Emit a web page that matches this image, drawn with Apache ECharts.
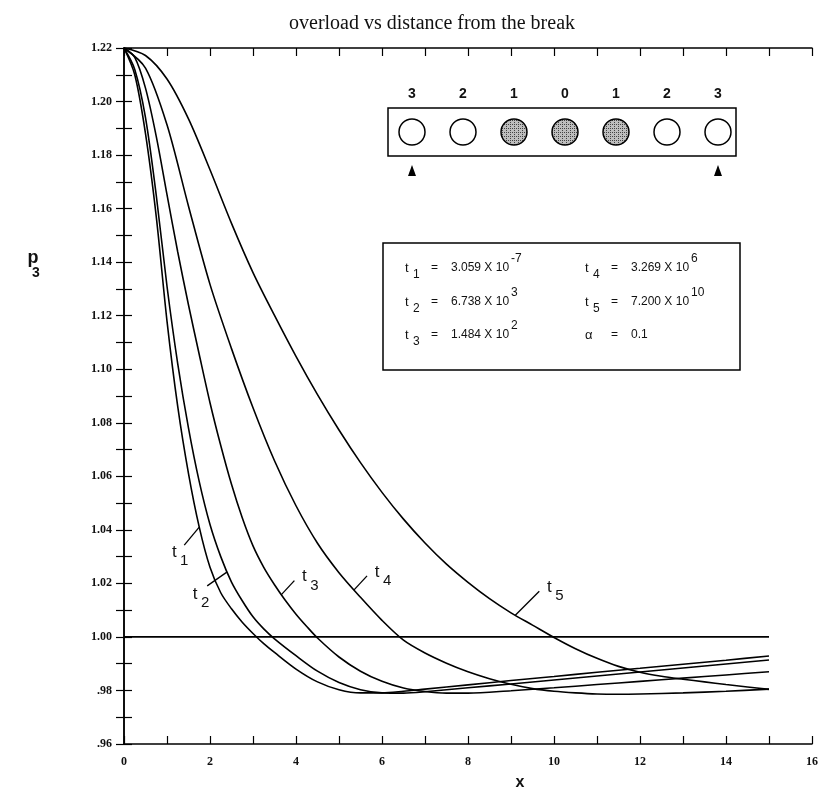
<!DOCTYPE html>
<html><head><meta charset="utf-8">
<script src="https://cdn.jsdelivr.net/npm/echarts@6/dist/echarts.min.js"></script>
<style>html,body{margin:0;padding:0;background:#fff}#c{width:823px;height:800px}</style>
</head><body><div id="c"></div>
<script>
// ---------------- data ----------------
const titleText = 'overload vs distance from the break';
const xAxisName = 'x';
const yAxisName = 'p';
const yAxisSub = '3';

const t1X = [0,0.25,0.5,0.75,1,1.25,1.5,1.75,2,2.25,2.5,2.75,3,3.25,3.5,4,4.5,5,5.5,6,6.5,7,8,9,10,11,12,13,14,15];
const t1Y = [1.220,1.210,1.188,1.157,1.118,1.086,1.061,1.041,1.026,1.0165,1.0105,1.0055,1.0013,0.9975,0.9942,0.9880,0.9832,0.9803,0.9791,0.9791,0.9797,0.9805,0.9821,0.9837,0.9852,0.9868,0.9883,0.9898,0.9913,0.9929];

const t2X = [0,0.25,0.5,0.75,1,1.25,1.5,1.75,2,2.25,2.5,2.75,3,3.25,3.5,4,4.5,5,5.5,6,6.5,7,8,9,10,11,12,13,14,15];
const t2Y = [1.220,1.212,1.194,1.165,1.131,1.102,1.078,1.058,1.042,1.030,1.0205,1.0135,1.0075,1.0030,0.9993,0.9930,0.9872,0.9830,0.9803,0.9791,0.9790,0.9795,0.9810,0.9824,0.9839,0.9854,0.9869,0.9884,0.9899,0.9914];

const t3X = [0,0.25,0.5,0.75,1,1.25,1.5,1.75,2,2.25,2.5,2.75,3,3.25,3.5,3.75,4,4.25,4.5,5,5.5,6,6.5,7,7.5,8,9,10,11,12,13,14,15];
const t3Y = [1.220,1.2165,1.205,1.187,1.1652,1.1438,1.124,1.1055,1.0875,1.0715,1.0570,1.0445,1.0340,1.0260,1.0195,1.0137,1.0085,1.0039,0.9996,0.9925,0.9872,0.9834,0.9809,0.9796,0.9790,0.9790,0.9799,0.9810,0.9822,0.9834,0.9846,0.9858,0.9870];

const t4X = [0,0.5,1,1.5,2,2.5,3,3.5,4,4.5,5,5.5,6,6.5,7,7.5,8,8.5,9,9.5,10,10.5,11,11.5,12,13,14,15];
const t4Y = [1.220,1.2125,1.1913,1.1609,1.1317,1.1077,1.0856,1.0658,1.0490,1.0350,1.0240,1.0148,1.0062,0.9988,0.9940,0.9902,0.9870,0.9844,0.9823,0.9807,0.9797,0.9791,0.9787,0.9786,0.9787,0.9791,0.9797,0.9805];

const t5X = [0,0.5,1,1.5,2,2.5,3,3.5,4,4.5,5,5.5,6,6.5,7,7.5,8,8.5,9,9.5,10,10.5,11,11.5,12,12.5,13,13.5,14,14.5,15];
const t5Y = [1.2200,1.2172,1.2084,1.1935,1.1745,1.1545,1.1361,1.1201,1.1048,1.0905,1.0773,1.0651,1.0540,1.0440,1.0351,1.0272,1.0204,1.0143,1.0090,1.0044,0.9998,0.9956,0.9920,0.9890,0.9868,0.9853,0.9842,0.9832,0.9822,0.9813,0.9804];

const refX = [0, 15];
const refY = [1.00, 1.00];

const curveXs = [t1X, t2X, t3X, t4X, t5X];
const curveYs = [t1Y, t2Y, t3Y, t4Y, t5Y];
const curveSubs = ['1','2','3','4','5'];
// x position on each curve where its label leader touches
const labelAtX = [1.75, 2.4, 3.66, 5.35, 9.1];

// inset diagram
const insetNumbers = ['3','2','1','0','1','2','3'];
const insetFilled = [false,false,true,true,true,false,false];
const insetArrows = [true,false,false,false,false,false,true];

// parameter box
const paramSubs = ['1','4','2','5','3'];
const paramMantissa = ['3.059','3.269','6.738','7.200','1.484'];
const paramExp = ['-7','6','3','10','2'];
const alphaLabel = 'α';
const alphaValue = '0.1';

// ---------------- chart ----------------
const chart = echarts.init(document.getElementById('c'), null, {renderer:'canvas'});
const serif = 'Liberation Serif';
const sans = 'Liberation Sans';

function makeSeries(xs, ys){ return xs.map((x,i)=>[x, ys[i]]); }

const axisLineStyle = {color:'#000', width:1.5};
const tickStyle = {inside:true, length:8, lineStyle:{color:'#000', width:1.2}};

const series = curveXs.map((xs,i)=>({
  type:'line', data: makeSeries(xs, curveYs[i]), showSymbol:false, smooth:0.3,
  lineStyle:{color:'#000', width:1.6}, silent:true, z:3
}));
series.push({type:'line', data: makeSeries(refX, refY), showSymbol:false, lineStyle:{color:'#000', width:1.6}, silent:true});

chart.setOption({
  animation:false,
  backgroundColor:'#fff',
  title:{text:titleText, left:284, top:9, textStyle:{fontFamily:serif, fontSize:20, fontWeight:'normal', color:'#111'}},
  grid:{left:124, right:11, top:48, bottom:56},
  xAxis:[
    {type:'value', min:0, max:16, interval:1, position:'bottom',
     axisLine:{lineStyle:axisLineStyle}, axisTick:tickStyle, splitLine:{show:false},
     axisLabel:{formatter:v=>(Math.round(v)%2===0?String(Math.round(v)):''), margin:12, fontFamily:serif, fontSize:12, fontWeight:'bold', color:'#111'}},
    {type:'value', min:0, max:16, interval:1, position:'top',
     axisLine:{lineStyle:axisLineStyle}, axisTick:tickStyle, splitLine:{show:false}, axisLabel:{show:false}}
  ],
  yAxis:[
    {type:'value', min:0.96, max:1.22, interval:0.01, position:'left',
     axisLine:{lineStyle:axisLineStyle}, axisTick:tickStyle, splitLine:{show:false},
     axisLabel:{formatter:v=>{const k=Math.round(v*100); if(k%2) return ''; const s=(k/100).toFixed(2); return k<100?s.slice(1):s;}, margin:12, fontFamily:serif, fontSize:12, fontWeight:'bold', color:'#111'}},
    {type:'value', min:0.96, max:1.22, interval:0.01, position:'right',
     axisLine:{lineStyle:axisLineStyle}, axisTick:tickStyle, splitLine:{show:false}, axisLabel:{show:false}}
  ],
  series: series
});

// ---------------- annotations ----------------
function interp(xs, ys, x){
  for(let i=0;i<xs.length-1;i++){
    if(x>=xs[i] && x<=xs[i+1]){ const f=(x-xs[i])/(xs[i+1]-xs[i]); return ys[i]+f*(ys[i+1]-ys[i]); }
  }
  return ys[ys.length-1];
}
const measureCtx = document.createElement('canvas').getContext('2d');
function textW(str, font){ measureCtx.font = font; return measureCtx.measureText(str).width; }

const g = [];
function txt(x, y, s, size, opts){
  opts = opts || {};
  g.push({type:'text', x:x, y:y, silent:true, z:10, style:{text:s, font:(opts.weight||'normal')+' '+size+'px "'+(opts.family||sans)+'"', fill:opts.color||'#111', textAlign:opts.align||'left', textVerticalAlign:opts.valign||'middle'}});
}
function line(x1,y1,x2,y2,w){ g.push({type:'line', silent:true, z:10, shape:{x1,y1,x2,y2}, style:{stroke:'#000', lineWidth:w||1.3}}); }

// stipple pattern for filled circles
const pc = document.createElement('canvas'); pc.width=4; pc.height=4;
const pctx = pc.getContext('2d'); pctx.fillStyle='#bdbdbd'; pctx.fillRect(0,0,4,4);
pctx.fillStyle='#444'; pctx.fillRect(0,0,1,1); pctx.fillRect(2,2,1,1); pctx.fillRect(2,0,1,1);
const pattern = {image: pc, repeat:'repeat'};

// inset rectangle
const insL=388, insT=108, insR=736, insB=156;
g.push({type:'rect', silent:true, z:9, shape:{x:insL, y:insT, width:insR-insL, height:insB-insT}, style:{fill:'#fff', stroke:'#000', lineWidth:1.5}});
const circX0 = 412, circStep = 51, circY = 132, circR = 13;
insetNumbers.forEach((n,i)=>{
  const cx = circX0 + i*circStep;
  txt(cx, 94, n, 14, {align:'center', weight:'bold'});
  g.push({type:'circle', silent:true, z:10, shape:{cx:cx, cy:circY, r:circR}, style:{fill: insetFilled[i]?pattern:'#fff', stroke:'#000', lineWidth:1.5}});
  if(insetArrows[i]) g.push({type:'polygon', silent:true, z:10, shape:{points:[[cx-4,176],[cx+4,176],[cx,165]]}, style:{fill:'#000'}});
});

// parameter box
const boxL=383, boxT=243, boxR=740, boxB=370;
g.push({type:'rect', silent:true, z:9, shape:{x:boxL, y:boxT, width:boxR-boxL, height:boxB-boxT}, style:{fill:'#fff', stroke:'#000', lineWidth:1.5}});
const rowY = [268, 268, 302, 302, 335];
const colX = [405, 585, 405, 585, 405];
const fs = 12;
const fnt = 'normal '+fs+'px "'+sans+'"';
paramSubs.forEach((s,i)=>{
  const x=colX[i], y=rowY[i];
  txt(x, y, 't', fs+1);
  txt(x+8, y+7, s, fs);
  txt(x+26, y, '=', fs);
  const val = paramMantissa[i]+' X 10';
  txt(x+46, y, val, fs);
  const w = textW(val, fnt);
  txt(x+48+w, y-9, paramExp[i], fs);
});
txt(585, 335, alphaLabel, fs+1);
txt(611, 335, '=', fs);
txt(631, 335, alphaValue, fs);

// curve labels with leader lines
const leaderVec = [[-15,18],[-20,14],[13,-14],[13,-14],[24,-24]];
const labelOff = [[-10,7],[-12,8],[10,-4],[10,-4],[10,-4]];
curveXs.forEach((xs,i)=>{
  const cx = labelAtX[i];
  const cy = interp(xs, curveYs[i], cx);
  const p = chart.convertToPixel({gridIndex:0}, [cx, cy]);
  const q = [p[0]+leaderVec[i][0], p[1]+leaderVec[i][1]];
  line(p[0], p[1], q[0], q[1], 1.3);
  const tx = q[0]+labelOff[i][0], ty = q[1]+labelOff[i][1];
  txt(tx, ty, 't', 17, {align:'center'});
  txt(tx+10, ty+9, curveSubs[i], 15, {align:'center'});
});

// axis names
txt(33, 258, yAxisName, 18, {weight:'bold', align:'center'});
txt(36, 273, yAxisSub, 14, {weight:'bold', align:'center'});
txt(520, 783, xAxisName, 16, {weight:'bold', align:'center'});

chart.setOption({graphic: g});
</script>
</body></html>
